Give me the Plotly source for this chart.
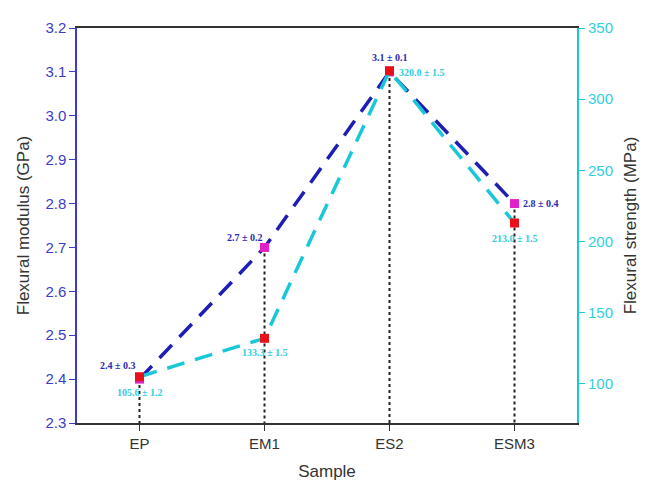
import plotly.graph_objects as go

samples = ["EP", "EM1", "ES2", "ESM3"]
modulus = [2.4, 2.7, 3.1, 2.8]
modulus_labels = ["2.4 ± 0.3", "2.7 ± 0.2", "3.1 ± 0.1", "2.8 ± 0.4"]
strength = [105.0, 132.0, 320.0, 213.0]
strength_labels = ["105.6 ± 1.2", "133.3 ± 1.5", "320.0 ± 1.5", "213.0 ± 1.5"]

BLUE = "#1e1eb4"
CYAN = "#18c8d8"
AXBLUE = "#3c3cc8"

fig = go.Figure()

# dotted drop lines
for s, m in zip(samples, modulus):
    fig.add_trace(go.Scatter(x=[s, s], y=[m, 2.3], mode="lines",
                             line=dict(color="#222222", width=2, dash="dot"),
                             showlegend=False, hoverinfo="skip"))

fig.add_trace(go.Scatter(x=samples, y=modulus, mode="lines",
                         line=dict(color=BLUE, width=3.5, dash="18px,11px"),
                         showlegend=False))
fig.add_trace(go.Scatter(x=samples, y=strength, mode="lines", yaxis="y2",
                         line=dict(color=CYAN, width=3.5, dash="18px,11px"),
                         showlegend=False))
fig.add_trace(go.Scatter(x=samples, y=modulus, mode="markers",
                         marker=dict(symbol="square", size=9, color="#e020c8"),
                         showlegend=False))
fig.add_trace(go.Scatter(x=samples, y=strength, mode="markers", yaxis="y2",
                         marker=dict(symbol="square", size=9, color="#e8101a"),
                         showlegend=False))

lab_font_b = dict(family="Liberation Serif", size=10, color="#2a2ab0")
lab_font_c = dict(family="Liberation Serif", size=10, color="#30cce0")
mod_pos = [(-22, -14), (-20, -10), (0, -14), (26, 0)]
str_pos = [(0, 16), (0, 14), (32, 2), (0, 15)]
for s, m, t, (dx, dy) in zip(samples, modulus, modulus_labels, mod_pos):
    fig.add_annotation(x=s, y=m, text="<b>%s</b>" % t, showarrow=False,
                       xshift=dx, yshift=-dy, font=lab_font_b)
for s, v, t, (dx, dy) in zip(samples, strength, strength_labels, str_pos):
    fig.add_annotation(x=s, y=v, yref="y2", text="<b>%s</b>" % t, showarrow=False,
                       xshift=dx, yshift=-dy, font=lab_font_c)

fig.update_layout(
    width=640, height=481,
    margin=dict(l=69, r=69, t=11, b=66),
    paper_bgcolor="white", plot_bgcolor="white",
    font=dict(family="Liberation Sans"),
    xaxis=dict(type="category", categoryorder="array", categoryarray=samples,
               range=[-0.5, 3.5], showline=True, linecolor="#333333", linewidth=1.5,
               mirror=True, ticks="outside", ticklen=6, tickcolor="#333333",
               tickfont=dict(size=15, color="#333333"), showgrid=False,
               title=dict(text="Sample", font=dict(size=17, color="#333333"), standoff=14)),
    yaxis=dict(range=[2.3, 3.2], dtick=0.1, tickformat=".1f", showline=True,
               linecolor=AXBLUE, linewidth=1.5, ticks="outside", ticklen=6,
               tickcolor=AXBLUE, tickfont=dict(size=15, color=AXBLUE), showgrid=False,
               zeroline=False,
               title=dict(text="Flexural modulus (GPa)", font=dict(size=17, color="#333333"),
                          standoff=11)),
    yaxis2=dict(range=[72.5, 350], tickvals=[100, 150, 200, 250, 300, 350],
                overlaying="y", side="right", showline=True, linecolor=CYAN, linewidth=2,
                ticks="outside", ticklen=6, tickcolor=CYAN,
                tickfont=dict(size=15, color="#30d0e0"), showgrid=False, zeroline=False,
                title=dict(text="Flexural strength (MPa)", font=dict(size=17, color="#333333"),
                           standoff=12)),
)

fig.write_html("out.html")
